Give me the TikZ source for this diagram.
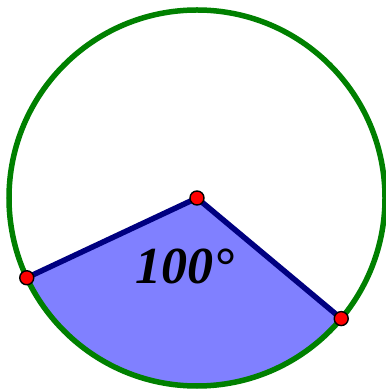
\documentclass[tikz,border=0pt]{standalone}
\usepackage{fontspec}
\setmainfont{Liberation Serif}
\usepackage{tikz}
\usetikzlibrary{positioning, calc}
\definecolor{circgreen}{RGB}{0,128,0}
\definecolor{radnavy}{RGB}{0,0,128}
\definecolor{sectorblue}{RGB}{128,128,255}

\begin{document}
\begin{tikzpicture}[
    x=1pt, y=1pt,
    rim/.style={draw=circgreen, line width=5.5pt},
    radius line/.style={draw=radnavy, line width=5.5pt},
    sector/.style={fill=sectorblue},
    dot/.style={circle, draw=black, fill=red, line width=1.4pt, minimum size=14pt, inner sep=0pt},
    angle label/.style={font=\fontsize{52}{56}\selectfont\bfseries\itshape}
]
    \useasboundingbox (0,0) rectangle (385,390);

    % Nodes
    \coordinate (O) at (197,192);
    \coordinate (A) at ($(O)+(205.1:188)$);
    \coordinate (B) at ($(O)+(320.1:188)$);

    % Sector and circle
    \path [sector] (O) -- (A) arc[start angle=205.1, end angle=320.1, radius=188] -- cycle;
    \draw [rim] (O) circle[radius=188];
    \draw [radius line] (A) -- (O) -- (B);

    % Points
    \node [dot] (pO) at (O) {};
    \node [dot] (pA) at (A) {};
    \node [dot] (pB) at (B) {};

    \node [angle label] (deg) at (185,124) {100°};
\end{tikzpicture}
\end{document}
